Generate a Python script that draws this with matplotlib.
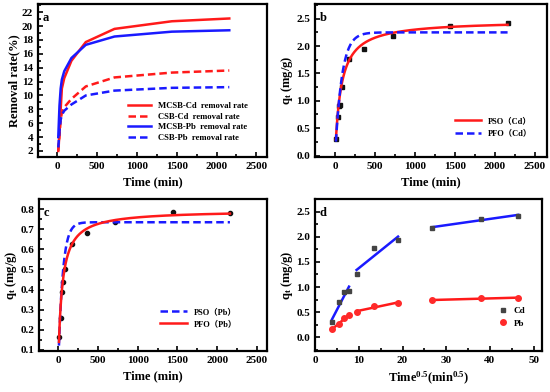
import numpy as np
import matplotlib
matplotlib.use("Agg")
import matplotlib.pyplot as plt
from matplotlib.ticker import AutoMinorLocator

plt.rcParams['font.family'] = ['Liberation Serif', 'Noto Sans CJK SC']
plt.rcParams['font.weight'] = 'bold'
plt.rcParams['mathtext.fontset'] = 'custom'
plt.rcParams['mathtext.rm'] = 'Liberation Serif:bold'
plt.rcParams['mathtext.it'] = 'Liberation Serif:bold'
plt.rcParams['mathtext.bf'] = 'Liberation Serif:bold'

# sampling times (min)
t = np.array([15, 30, 45, 60, 90, 180, 360, 720, 1440, 2160])

# removal rate (%)
mcsb_cd = [2.0, 4.5, 8.0, 11.0, 12.5, 15.0, 17.7, 19.6, 20.7, 21.1]
csb_cd = [2.0, 4.3, 6.5, 7.5, 8.3, 9.5, 11.3, 12.6, 13.3, 13.6]
mcsb_pb = [4.0, 8.5, 11.0, 12.3, 13.5, 15.4, 17.3, 18.5, 19.2, 19.4]
csb_pb = [2.5, 4.8, 6.5, 7.2, 7.8, 8.7, 10.0, 10.7, 11.1, 11.2]

# adsorption capacity qt (mg/g)
qt_cd = np.array([0.30, 0.70, 0.90, 0.93, 1.25, 1.77, 1.94, 2.18, 2.36, 2.42])
qt_pb = np.array([0.165, 0.26, 0.39, 0.44, 0.50, 0.625, 0.68, 0.735, 0.785, 0.78])

# kinetic model parameters
pso_cd = (2.47, 0.0055)   # qe, k2
pfo_cd = (2.25, 0.012)    # qe, k1
pfo_pb = (0.735, 0.018)   # qe, k1 (labelled "PSO (Pb)")
pso_pb = (0.795, 0.0267)  # qe, k2 (labelled "PFO (Pb)")

# intraparticle diffusion stages (index ranges)
stages = [(0, 4), (4, 7), (7, 10)]

qlabel = r'q$_t$ (mg/g)'


def pfo(tt, qe, k):
    return qe * (1 - np.exp(-k * tt))


def pso(tt, qe, k):
    return k * qe**2 * tt / (1 + k * qe * tt)


def style(ax, letter):
    for s in ax.spines.values():
        s.set_linewidth(1.6)
    ax.tick_params(which='both', direction='in', top=False, right=False,
                   labelsize=8, width=1.2)
    ax.tick_params(which='major', length=3.5)
    ax.tick_params(which='minor', length=2)
    ax.xaxis.set_minor_locator(AutoMinorLocator(2))
    ax.yaxis.set_minor_locator(AutoMinorLocator(2))
    for lab in ax.get_xticklabels() + ax.get_yticklabels():
        lab.set_fontweight('bold')
    ax.text(0.02, 0.95, letter, transform=ax.transAxes, fontsize=9,
            fontweight='bold', va='top', ha='left')


fig = plt.figure(figsize=(5.5, 3.92), dpi=100)
dash = (0, (3, 1.6))
tt = np.linspace(10, 2160, 600)

# ---- a
ax = fig.add_axes([0.069, 0.599, 0.416, 0.391])
ax.plot(t, mcsb_cd, color='#ff1a1a', lw=1.8, label='MCSB-Cd  removal rate')
ax.plot(t, csb_cd, color='#ff1a1a', lw=1.8, ls=dash, label='CSB-Cd  removal rate')
ax.plot(t, mcsb_pb, color='#1a1aff', lw=1.8, label='MCSB-Pb  removal rate')
ax.plot(t, csb_pb, color='#1a1aff', lw=1.8, ls=dash, label='CSB-Pb  removal rate')
ax.set_xlim(-240, 2630)
ax.set_ylim(1.1, 23.2)
ax.set_xticks([0, 500, 1000, 1500, 2000, 2500])
ax.set_yticks(range(2, 23, 2))
ax.set_xlabel('Time (min)', fontsize=9, fontweight='bold')
ax.set_ylabel('Removal rate(%)', fontsize=9, fontweight='bold', labelpad=1)
ax.legend(loc='lower right', frameon=False, fontsize=6.2, handlelength=2.6,
          labelspacing=0.3, bbox_to_anchor=(0.95, 0.05))
style(ax, 'a')

# ---- b
ax = fig.add_axes([0.573, 0.599, 0.421, 0.391])
ax.plot(t, qt_cd, 's', color='#111111', ms=3)
ax.plot(tt, pso(tt, *pso_cd), color='#ff1a1a', lw=1.8, label='PSO（Cd）')
ax.plot(tt, pfo(tt, *pfo_cd), color='#1a1aff', lw=1.8, ls=dash, label='PFO（Cd）')
ax.set_xlim(-250, 2650)
ax.set_ylim(-0.03, 2.77)
ax.set_xticks([0, 500, 1000, 1500, 2000, 2500])
ax.set_yticks([0.0, 0.5, 1.0, 1.5, 2.0, 2.5])
ax.set_xlabel('Time (min)', fontsize=9, fontweight='bold')
ax.set_ylabel(qlabel, fontsize=9, fontweight='bold', labelpad=1)
ax.legend(loc='lower right', frameon=False, fontsize=6, handlelength=3.2,
          labelspacing=0.5, bbox_to_anchor=(0.97, 0.08))
style(ax, 'b')

# ---- c
ax = fig.add_axes([0.071, 0.105, 0.415, 0.387])
ax.plot(t, qt_pb, 'o', color='#111111', ms=3)
ax.plot(tt, pfo(tt, *pfo_pb), color='#1a1aff', lw=1.8, ls=dash, label='PSO（Pb）')
ax.plot(tt, pso(tt, *pso_pb), color='#ff1a1a', lw=1.8, label='PFO（Pb）')
ax.set_xlim(-240, 2630)
ax.set_ylim(0.095, 0.85)
ax.set_xticks([0, 500, 1000, 1500, 2000, 2500])
ax.set_yticks([0.1, 0.2, 0.3, 0.4, 0.5, 0.6, 0.7, 0.8])
ax.set_xlabel('Time (min)', fontsize=9, fontweight='bold')
ax.set_ylabel(qlabel, fontsize=9, fontweight='bold', labelpad=1)
ax.legend(loc='lower right', frameon=False, fontsize=6, handlelength=3.2,
          labelspacing=0.5, bbox_to_anchor=(0.9, 0.1))
style(ax, 'c')

# ---- d
ax = fig.add_axes([0.573, 0.105, 0.413, 0.387])
st = np.sqrt(t)
ax.plot(st, qt_cd, 's', color='#444444', ms=3.5, label='Cd', zorder=3)
ax.plot(st, qt_pb, 'o', color='#ff2a2a', ms=4, label='Pb', zorder=3)
for i0, i1 in stages:
    x = st[i0:i1]
    xs = np.array([x[0], x[-1]])
    for q, c in ((qt_cd, '#1a1aff'), (qt_pb, '#ff1a1a')):
        p = np.polyfit(x, q[i0:i1], 1)
        ax.plot(xs, np.polyval(p, xs), color=c, lw=1.8, zorder=2)
ax.set_xlim(0, 52)
ax.set_ylim(-0.27, 2.75)
ax.set_xticks([0, 10, 20, 30, 40, 50])
ax.set_yticks([0.0, 0.5, 1.0, 1.5, 2.0, 2.5])
ax.set_xlabel('Time$^{0.5}$(min$^{0.5}$)', fontsize=9, fontweight='bold')
ax.set_ylabel(qlabel, fontsize=9, fontweight='bold', labelpad=1)
ax.legend(loc='lower right', frameon=False, fontsize=6.5, handletextpad=0.6,
          handlelength=1.2, labelspacing=0.5, bbox_to_anchor=(0.96, 0.1))
style(ax, 'd')

fig.savefig('out.png', dpi=100)
